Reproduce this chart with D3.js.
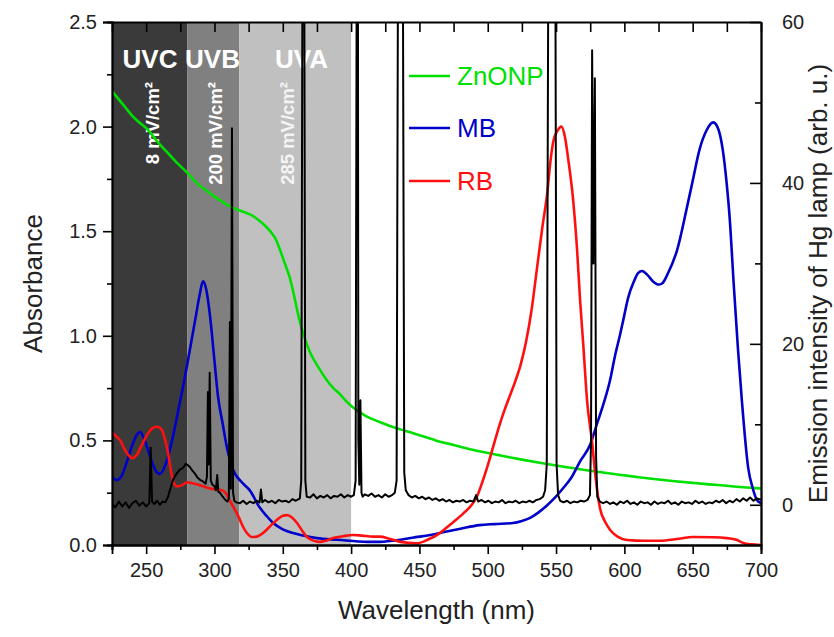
<!DOCTYPE html>
<html><head><meta charset="utf-8">
<script src="https://cdn.jsdelivr.net/npm/d3@7"></script>
<style>body{margin:0;background:#fff}svg{display:block}text{font-family:Arial,"Liberation Sans",sans-serif}</style>
</head><body><svg id="c" width="834" height="637"></svg>
<script>
// ---------------- data ----------------
const xDomain = [225, 700];
const yLeftDomain = [0, 2.5];
const yRightDomain = [-5, 60];
const xMajorTicks = [250, 300, 350, 400, 450, 500, 550, 600, 650, 700];
const xMinorTicks = [225, 275, 325, 375, 425, 475, 525, 575, 625, 675];
const leftMajorTicks = [0, 0.5, 1.0, 1.5, 2.0, 2.5];
const leftMinorTicks = [0.25, 0.75, 1.25, 1.75, 2.25];
const rightMajorTicks = [0, 20, 40, 60];
const rightMinorTicks = [10, 30, 50];
const bandNames = ["UVC", "UVB", "UVA"];
const bandFrom = [225, 280, 318];
const bandTo = [280, 318, 400];
const bandDose = ["8 mV/cm²", "200 mV/cm²", "285 mV/cm²"];
const seriesNames = ["ZnONP", "MB", "RB"];

const znonp = [[225,2.17],[230,2.13],[235,2.09],[240,2.05],[245,2.02],[252,1.98],[258,1.93],[265,1.88],[272,1.83],[280,1.78],[287,1.73],[295,1.69],[300,1.665],[306,1.64],[314,1.61],[320,1.595],[326,1.58],[332,1.555],[338,1.52],[342,1.49],[345,1.46],[348,1.41],[351,1.355],[355,1.28],[358,1.2],[362,1.08],[366,0.99],[370,0.92],[376,0.85],[382,0.79],[387,0.75],[392,0.72],[396,0.69],[401,0.66],[410,0.62],[420,0.59],[430,0.565],[440,0.545],[450,0.525],[462,0.5],[475,0.478],[487,0.458],[500,0.44],[512,0.424],[525,0.408],[537,0.394],[550,0.38],[562,0.368],[575,0.355],[587,0.344],[600,0.333],[612,0.323],[625,0.313],[637,0.305],[650,0.297],[662,0.29],[675,0.283],[687,0.276],[700,0.27]];

const mb = [[225,0.325],[228.7,0.31],[232,0.33],[236,0.4],[240,0.48],[243,0.525],[245.5,0.54],[249,0.5],[253,0.42],[257,0.355],[260,0.34],[265,0.4],[270,0.53],[274,0.66],[277,0.757],[280,0.86],[283,0.97],[286,1.08],[289,1.19],[291.6,1.26],[294,1.22],[297,1.08],[300,0.88],[302.6,0.71],[306,0.58],[309,0.47],[313.6,0.36],[320,0.3],[326,0.26],[333,0.18],[338,0.14],[343,0.105],[350,0.075],[357.5,0.057],[365,0.045],[375,0.033],[390,0.025],[411.7,0.015],[421,0.015],[436,0.025],[445,0.035],[458,0.048],[470,0.065],[480,0.078],[494,0.095],[505,0.1],[518.5,0.105],[525,0.115],[531,0.13],[537,0.155],[543.5,0.19],[549,0.225],[555,0.27],[561,0.32],[567.6,0.4],[575,0.48],[580,0.58],[585,0.68],[589.6,0.79],[593,0.9],[597,1.01],[600,1.1],[602.7,1.18],[607,1.26],[610,1.3],[613,1.31],[617,1.29],[621,1.26],[625,1.245],[627.6,1.25],[632,1.3],[638.6,1.41],[646,1.62],[650,1.74],[655,1.89],[660,1.98],[665,2.02],[668,2.0],[672,1.89],[675,1.72],[677,1.57],[680,1.25],[683,0.95],[686,0.69],[690.6,0.37],[694,0.27],[697,0.215],[700,0.2]];

const rb = [[225,0.54],[228,0.52],[231,0.5],[234,0.46],[237,0.43],[240,0.415],[243,0.43],[247,0.48],[251,0.53],[255,0.56],[258,0.565],[261,0.555],[264,0.5],[266,0.44],[268,0.36],[270,0.3],[272.6,0.28],[276,0.285],[280,0.3],[284,0.295],[287,0.29],[292,0.28],[296.7,0.27],[301,0.265],[306,0.26],[309,0.24],[311,0.215],[314,0.18],[316.5,0.15],[319,0.115],[321,0.086],[324,0.055],[327.5,0.038],[331,0.04],[335.5,0.057],[340,0.085],[345.6,0.12],[350,0.14],[353,0.143],[356,0.135],[360.4,0.105],[364,0.07],[367.7,0.038],[372,0.022],[377,0.015],[382,0.022],[386.8,0.033],[394,0.042],[401.4,0.048],[408,0.045],[416,0.04],[421,0.04],[428,0.03],[436,0.015],[448,0.008],[456,0.025],[465,0.057],[473,0.1],[482,0.15],[488,0.19],[492,0.23],[496,0.3],[499.5,0.37],[504,0.47],[508,0.56],[512,0.64],[516,0.71],[520,0.78],[524,0.86],[528,0.97],[532,1.12],[536,1.32],[540,1.52],[543.5,1.68],[546,1.84],[548,1.93],[551,1.98],[554,2.0],[556.5,1.95],[559,1.84],[562.5,1.65],[565.4,1.41],[567.6,1.17],[570,0.95],[572.7,0.69],[576.4,0.49],[579,0.32],[582,0.18],[586,0.11],[589.6,0.072],[595,0.04],[602,0.024],[615,0.02],[626,0.02],[640,0.03],[650,0.038],[665,0.037],[675,0.033],[682,0.025],[687,0.01],[693,0.003],[700,0.0]];

const hgLamp = [[225,0.1],[227.5,-0.3],[230,0.4],[232.5,-0.2],[235,0.3],[237.5,-0.4],[240,0.2],[242.5,0.5],[245,-0.1],[247.5,0.3],[250,-0.2],[252.3,0.2],[253.3,7.1],[254.3,0.4],[256,0.1],[258,0.5],[260,0.0],[262,0.4],[264,0.3],[266,1.0],[267.5,1.9],[269.7,3.1],[272,3.8],[274.8,4.4],[277,4.6],[279,5.1],[280.6,4.9],[282,4.7],[284,4.2],[286,3.8],[287.5,3.4],[289.4,3.1],[291.6,2.9],[293.5,2.6],[294.5,3.5],[295.2,14],[295.8,5],[296.5,16.4],[297.3,3],[298.5,2.5],[300,2.3],[301,1.8],[302,3.7],[302.8,1.6],[304,1.5],[306,1.0],[308,0.6],[309.5,0.4],[310.5,0.8],[311.3,22.7],[312,2],[312.8,46.8],[313.6,1.5],[314.5,0.5],[316,0.3],[318.7,0.2],[321,0.5],[323.5,0.1],[326,0.4],[328.5,0.2],[331,0.5],[333,0.3],[334,1.9],[335,0.3],[337,0.6],[339.5,0.3],[342,0.5],[344.5,0.2],[347,0.6],[349.5,0.4],[352,0.5],[354.5,0.3],[357,0.7],[359.5,0.5],[362.5,0.8],[363.5,3],[364.3,60],[365,150],[365.8,60],[366.5,3],[367.5,1.0],[370,0.9],[372.5,1.3],[375,0.8],[377.5,1.1],[380,0.9],[382.5,1.2],[385,0.8],[387.5,1.1],[390,1.0],[392.5,1.3],[395,0.9],[397.5,1.2],[400,1.0],[402,1.2],[403.3,3],[404,60],[404.7,120],[405.3,8],[406,2.5],[406.8,13],[407.6,1.5],[408.5,1.0],[410,1.3],[412.5,1.1],[415,1.4],[417.5,1.0],[420,1.2],[422.5,0.9],[425,1.3],[427.5,1.0],[430,1.2],[432,1.5],[433.3,3],[434.2,60],[436,250],[438,60],[438.9,4],[440,1.8],[442,1.2],[444.5,0.9],[447,1.1],[449.5,0.8],[452,1.0],[454.5,0.7],[457,0.9],[459.5,0.6],[462,0.8],[464.5,0.5],[467,0.7],[469.5,0.4],[472,0.6],[474.5,0.3],[477,0.5],[479.5,0.4],[482,0.6],[484.5,0.3],[487,0.5],[489.5,0.4],[491.5,1.2],[493,0.4],[495.5,0.6],[498,0.3],[500.5,0.5],[503,0.2],[505.5,0.4],[508,0.3],[510.5,0.6],[513,0.2],[515.5,0.4],[518,0.3],[520.5,0.5],[523,0.2],[525.5,0.4],[528,0.3],[530.5,0.5],[533,0.3],[535.5,0.6],[538,0.7],[540.5,1.0],[542,1.8],[543.2,5],[544.2,60],[546.8,400],[549.6,60],[550.4,5],[551.5,1.2],[553,0.5],[555.5,0.3],[558,0.5],[560.5,0.2],[563,0.4],[565.5,0.3],[568,0.5],[570.5,0.4],[573,0.6],[574.8,1.2],[575.6,8],[576.4,56.5],[577.3,30],[578.4,53],[579.3,6],[580.2,1.0],[582,0.4],[584.5,0.2],[587,0.4],[589.5,0.1],[592,0.3],[594.5,0.0],[597,0.4],[599.5,0.2],[602,0.5],[604.5,0.1],[607,0.3],[609.5,0.0],[612,0.4],[614.5,0.2],[617,0.3],[619.5,0.0],[622,0.4],[624.5,0.1],[627,0.3],[629.5,0.2],[632,0.5],[634.5,0.1],[637,0.3],[639.5,0.0],[642,0.4],[644.5,0.2],[647,0.3],[649.5,0.1],[652,0.5],[654.5,0.2],[657,0.4],[659.5,0.1],[662,0.3],[664.5,0.2],[667,0.5],[669.5,0.3],[672,0.6],[674.5,0.2],[677,0.5],[679.5,0.3],[682,0.7],[684.5,0.4],[687,0.8],[689.5,0.5],[692,0.9],[694.5,0.5],[697,0.8],[700,0.6]];

// ---------------- layout ----------------
const L = 112, R = 761, T = 22, B = 545;
const svg = d3.select("#c");
const x = d3.scaleLinear().domain(xDomain).range([L, R]);
const yL = d3.scaleLinear().domain(yLeftDomain).range([B, T]);
const yR = d3.scaleLinear().domain(yRightDomain).range([B, T]);

svg.append("defs").append("clipPath").attr("id", "clip")
  .append("rect").attr("x", L).attr("y", T).attr("width", R - L).attr("height", B - T);

// bands
const bandFill = ["#3a3a3a", "#808080", "#c0c0c0"];
const g = svg.append("g");
g.selectAll("rect.band").data(bandNames).join("rect")
  .attr("x", (d, i) => x(bandFrom[i])).attr("y", T)
  .attr("width", (d, i) => x(bandTo[i]) - x(bandFrom[i])).attr("height", B - T)
  .attr("fill", (d, i) => bandFill[i]);

const nameNm = [252.8, 298.6, 363.7];
g.selectAll("text.bname").data(bandNames).join("text")
  .attr("x", (d, i) => x(nameNm[i])).attr("y", 68)
  .attr("text-anchor", "middle").attr("font-size", 26).attr("font-weight", "bold")
  .attr("fill", "#fff").text(d => d);

const doseNm = [254.3, 300.4, 353.1];
g.selectAll("text.dose").data(bandDose).join("text")
  .attr("transform", (d, i) => `translate(${x(doseNm[i]) + 6.5},82) rotate(-90)`)
  .attr("text-anchor", "end").attr("font-size", 18.5).attr("font-weight", "bold")
  .attr("fill", (d, i) => i === 2 ? "#f4f4f4" : "#fff").text(d => d);

// curves
const plot = svg.append("g").attr("clip-path", "url(#clip)");
const smooth = d3.line().x(d => x(d[0])).y(d => yL(d[1])).curve(d3.curveMonotoneX);
const colors = ["#00e000", "#0000c8", "#ff1010"];
[znonp, mb, rb].forEach((s, i) => {
  plot.append("path").datum(s).attr("d", smooth)
    .attr("fill", "none").attr("stroke", colors[i]).attr("stroke-width", 2.6)
    .attr("stroke-linejoin", "round");
});
const lampLine = d3.line().x(d => x(d[0])).y(d => yR(d[1]));
plot.append("path").datum(hgLamp).attr("d", lampLine)
  .attr("fill", "none").attr("stroke", "#000").attr("stroke-width", 2)
  .attr("stroke-linejoin", "round");

// legend
const legY = [76, 128, 181];
const leg = svg.append("g");
seriesNames.forEach((n, i) => {
  leg.append("line").attr("x1", 409).attr("x2", 450).attr("y1", legY[i]).attr("y2", legY[i])
    .attr("stroke", colors[i]).attr("stroke-width", 2.6);
  leg.append("text").attr("x", 457).attr("y", legY[i] + 9).attr("font-size", 26)
    .attr("fill", colors[i]).text(n);
});

// axes
function styleAxis(sel) {
  sel.select(".domain").attr("stroke", "#000").attr("stroke-width", 1.8);
  sel.selectAll(".tick line").attr("stroke", "#000").attr("stroke-width", 1.6);
  sel.selectAll(".tick text").attr("font-size", 20).attr("fill", "#222")
    .attr("font-family", "Arial, 'Liberation Sans', sans-serif");
}
const ax = svg.append("g");
ax.append("g").attr("transform", `translate(0,${B})`)
  .call(d3.axisBottom(x).tickValues(xMinorTicks).tickSize(5).tickFormat(""))
  .call(styleAxis);
ax.append("g").attr("transform", `translate(0,${B})`)
  .call(d3.axisBottom(x).tickValues(xMajorTicks).tickSize(9).tickPadding(9).tickFormat(d3.format("d")))
  .call(styleAxis);
ax.append("g").attr("transform", `translate(0,${T})`)
  .call(d3.axisTop(x).tickValues(xMajorTicks.concat(xMinorTicks)).tickSizeInner(-10).tickSizeOuter(0).tickFormat(""))
  .call(styleAxis);
ax.append("g").attr("transform", `translate(${L},0)`)
  .call(d3.axisLeft(yL).tickValues(leftMinorTicks).tickSize(5).tickFormat(""))
  .call(styleAxis);
ax.append("g").attr("transform", `translate(${L},0)`)
  .call(d3.axisLeft(yL).tickValues(leftMajorTicks).tickSize(9).tickPadding(6).tickFormat(d3.format(".1f")))
  .call(styleAxis);
ax.append("g").attr("transform", `translate(${R},0)`)
  .call(d3.axisRight(yR).tickValues(rightMinorTicks).tickSizeInner(-6).tickSizeOuter(0).tickFormat(""))
  .call(styleAxis);
ax.append("g").attr("transform", `translate(${R},0)`)
  .call(d3.axisRight(yR).tickValues(rightMajorTicks).tickSizeInner(-11).tickSizeOuter(0).tickPadding(21).tickFormat(d3.format("d")))
  .call(styleAxis);

// titles
svg.append("text").attr("x", (L + R) / 2).attr("y", 619).attr("text-anchor", "middle")
  .attr("font-size", 26).attr("fill", "#222").text("Wavelength (nm)");
svg.append("text").attr("transform", `translate(42,${(T + B) / 2}) rotate(-90)`)
  .attr("text-anchor", "middle").attr("font-size", 26).attr("fill", "#222").text("Absorbance");
svg.append("text").attr("transform", `translate(827,${(T + B) / 2}) rotate(-90)`)
  .attr("text-anchor", "middle").attr("font-size", 26).attr("fill", "#222")
  .text("Emission intensity of Hg lamp (arb. u.)");
</script></body></html>
